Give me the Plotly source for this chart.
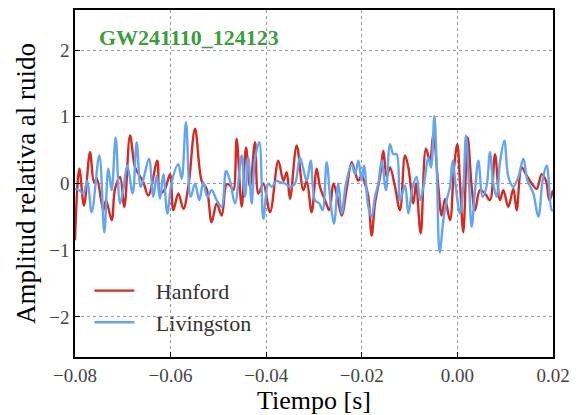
import plotly.graph_objects as go

# Hanford (red) whitened strain: time [s], amplitude
hanford_t = [-0.0800, -0.07909, -0.07812, -0.07686, -0.07603, -0.07547, -0.07407, -0.07351,
             -0.07233, -0.07163, -0.07058, -0.06968, -0.06849, -0.06745, -0.06675, -0.06570,
             -0.06466, -0.06277, -0.06222, -0.06117, -0.06012, -0.05943, -0.05838, -0.05733,
             -0.05629, -0.05489, -0.05350, -0.05245, -0.05141, -0.05036, -0.04931, -0.04827,
             -0.04757, -0.04687, -0.04618, -0.04513, -0.04422, -0.04339, -0.04234, -0.04164,
             -0.04060, -0.03920, -0.03746, -0.03641, -0.03571, -0.03502, -0.03362, -0.03223,
             -0.03153, -0.03049, -0.02944, -0.02875, -0.02770, -0.02679, -0.02595, -0.02512,
             -0.02421, -0.02317, -0.02212, -0.02142, -0.02072, -0.02003, -0.01933, -0.01863,
             -0.01794, -0.01724, -0.01619, -0.01549, -0.01480, -0.01410, -0.01305, -0.01201,
             -0.01096, -0.01026, -0.00922, -0.00866, -0.00768, -0.00657, -0.00573, -0.00503,
             -0.00399, -0.00329, -0.00259, -0.00155, -0.00071, -0.00001, 0.00055, 0.00124,
             0.00215, 0.00299, 0.00369, 0.00473, 0.00578, 0.00682, 0.00787, 0.00891,
             0.00961, 0.01066, 0.01170, 0.01240, 0.01345, 0.01449, 0.01554, 0.01659,
             0.01763, 0.01854, 0.01924, 0.0200]
hanford_v = [-0.85, 0.22, -0.33, 0.47, 0.02, 0.08, -0.40, -0.25,
             -0.55, -0.08, 0.10, -0.35, 0.72, 0.24, 0.15, 0.02,
             -0.18, 0.34, -0.15, -0.08, 0.14, -0.40, -0.15, -0.38,
             -0.05, 0.82, 0.04, -0.08, -0.58, -0.30, -0.48, -0.01,
             -0.03, -0.10, 0.67, -0.35, 0.54, -0.05, 0.62, -0.15,
             0.00, -0.43, 0.34, 0.04, 0.17, -0.23, 0.57, -0.10,
             0.04, -0.43, 0.22, -0.05, -0.25, -0.40, 0.00, -0.20,
             -0.48, -0.08, 0.32, 0.17, 0.04, 0.12, 0.00, -0.20,
             -0.78, -0.30, 0.10, 0.49, 0.10, 0.24, -0.05, -0.40,
             0.42, 0.24, -0.30, 0.00, -0.75, 0.52, 0.34, 0.75,
             -0.05, -0.48, -0.23, -0.55, 0.24, 0.59, 0.00, -0.73,
             0.69, -0.05, -0.40, -0.10, -0.15, -0.25, 0.44, -0.25,
             -0.10, -0.35, -0.08, -0.40, 0.24, 0.12, 0.00, -0.08,
             0.14, 0.04, -0.25, -0.10]

# Livingston (blue)
livingston_t = [-0.0800, -0.07909, -0.07826, -0.07742, -0.07651, -0.07491, -0.07386, -0.07303,
                -0.07233, -0.07149, -0.07058, -0.06989, -0.06905, -0.06793, -0.06710, -0.06626,
                -0.06556, -0.06452, -0.06361, -0.06291, -0.06222, -0.06152, -0.06068, -0.05978,
                -0.05838, -0.05768, -0.05678, -0.05580, -0.05489, -0.05399, -0.05315, -0.05231,
                -0.05141, -0.05036, -0.04931, -0.04841, -0.04757, -0.04652, -0.04513, -0.04443,
                -0.04374, -0.04304, -0.04234, -0.04143, -0.04060, -0.03955, -0.03885, -0.03781,
                -0.03711, -0.03606, -0.03502, -0.03397, -0.03293, -0.03153, -0.03070, -0.02979,
                -0.02888, -0.02819, -0.02735, -0.02651, -0.02582, -0.02491, -0.02421, -0.02330,
                -0.02212, -0.02142, -0.02072, -0.02003, -0.01954, -0.01863, -0.01794, -0.01724,
                -0.01654, -0.01584, -0.01494, -0.01410, -0.01340, -0.01271, -0.01201, -0.01096,
                -0.01026, -0.00936, -0.00852, -0.00782, -0.00698, -0.00608, -0.00552, -0.00482,
                -0.00433, -0.00371, -0.00294, -0.00224, -0.00155, -0.00099, -0.00029, 0.00055,
                0.00124, 0.00180, 0.00243, 0.00299, 0.00369, 0.00438, 0.00529, 0.00613,
                0.00682, 0.00752, 0.00822, 0.00891, 0.00982, 0.01066, 0.01170, 0.01275,
                0.01380, 0.01463, 0.01589, 0.01694, 0.01784, 0.01868, 0.01973, 0.0200]
livingston_v = [-0.08, -0.10, -0.15, 0.04, -0.43, 0.42, -0.73, 0.22,
                -0.10, 0.69, -0.30, -0.08, 0.27, -0.15, 0.62, -0.05,
                0.10, 0.37, -0.20, 0.12, -0.23, 0.14, -0.45, 0.02,
                0.29, 0.07, 0.92, -0.20, 0.00, -0.25, 0.02, -0.20,
                -0.10, -0.25, -0.35, 0.19, 0.04, -0.30, 0.42, -0.20,
                0.39, -0.30, 0.37, 0.62, -0.53, 0.00, -0.05, 0.04,
                0.02, 0.00, -0.05, 0.00, 0.39, 0.04, 0.34, -0.25,
                -0.30, -0.40, 0.32, -0.30, -0.60, 0.00, -0.45, 0.00,
                0.29, 0.14, 0.34, 0.04, 0.27, -0.35, -0.50, -0.20,
                0.00, 0.34, -0.10, 0.59, 0.44, 0.44, -0.25, -0.03,
                -0.45, -0.05, 0.10, -0.25, 0.00, 0.39, 0.24, 1.01,
                0.24, -1.03, -0.55, -0.25, -0.05, 0.34, -0.08, -0.45,
                -0.05, 0.72, 0.00, -0.65, -0.10, 0.34, -0.20, -0.03,
                0.47, -0.01, -0.20, 0.32, 0.64, 0.10, -0.05, 0.10,
                0.37, 0.05, -0.15, -0.50, 0.05, 0.27, -0.40, -0.40]

x_ticks = [-0.08, -0.06, -0.04, -0.02, 0.00, 0.02]
x_tick_labels = ["\u22120.08", "\u22120.06", "\u22120.04", "\u22120.02", "0.00", "0.02"]
y_ticks = [-2, -1, 0, 1, 2]
y_tick_labels = ["\u22122", "\u22121", "0", "1", "2"]

event_name = "GW241110_124123"

SERIF = "serif"

fig = go.Figure()
fig.add_trace(go.Scatter(x=hanford_t, y=hanford_v, mode="lines", name="\u00a0\u00a0\u00a0Hanford",
                         line=dict(color="#d42a22", width=2.4, shape="spline", smoothing=1.0)))
fig.add_trace(go.Scatter(x=livingston_t, y=livingston_v, mode="lines", name="\u00a0\u00a0\u00a0Livingston",
                         line=dict(color="#62a6f2", width=2.4, shape="spline", smoothing=1.0)))

axis_common = dict(showline=True, linecolor="black", linewidth=1.5, mirror=True,
                   ticks="inside", ticklen=5, tickcolor="black", tickwidth=1,
                   showgrid=True, gridcolor="#999999", griddash="dot", gridwidth=1,
                   zeroline=False, automargin=False,
                   tickfont=dict(family=SERIF, size=19, color="#444444"))

fig.update_xaxes(range=[-0.08, 0.02], tickvals=x_ticks, ticktext=x_tick_labels,
                 title=dict(text="Tiempo [s]", font=dict(family=SERIF, size=26, color="black"),
                            standoff=8),
                 **axis_common)
fig.update_yaxes(range=[-2.6, 2.6], tickvals=y_ticks, ticktext=y_tick_labels,
                 title=dict(text="Amplitud relativa al ruido",
                            font=dict(family=SERIF, size=27, color="black"), standoff=6),
                 **axis_common)

fig.add_annotation(text="<b>" + event_name + "</b>", xref="paper", yref="paper",
                   x=0.047, y=0.92, xanchor="left", yanchor="middle", showarrow=False,
                   font=dict(family=SERIF, size=22, color="#3a9e3a"))

fig.update_layout(
    width=584, height=415,
    margin=dict(l=75, r=31, t=10, b=58),
    paper_bgcolor="white", plot_bgcolor="white",
    font=dict(family=SERIF),
    showlegend=True,
    legend=dict(x=0.03, y=0.038, xanchor="left", yanchor="bottom",
                bgcolor="rgba(255,255,255,0)", borderwidth=0,
                font=dict(family=SERIF, size=22, color="#333333"),
                tracegroupgap=0, itemwidth=40),
)

fig.write_html("out.html", config={"displayModeBar": False},
               post_script="document.body.style.margin='0';")
